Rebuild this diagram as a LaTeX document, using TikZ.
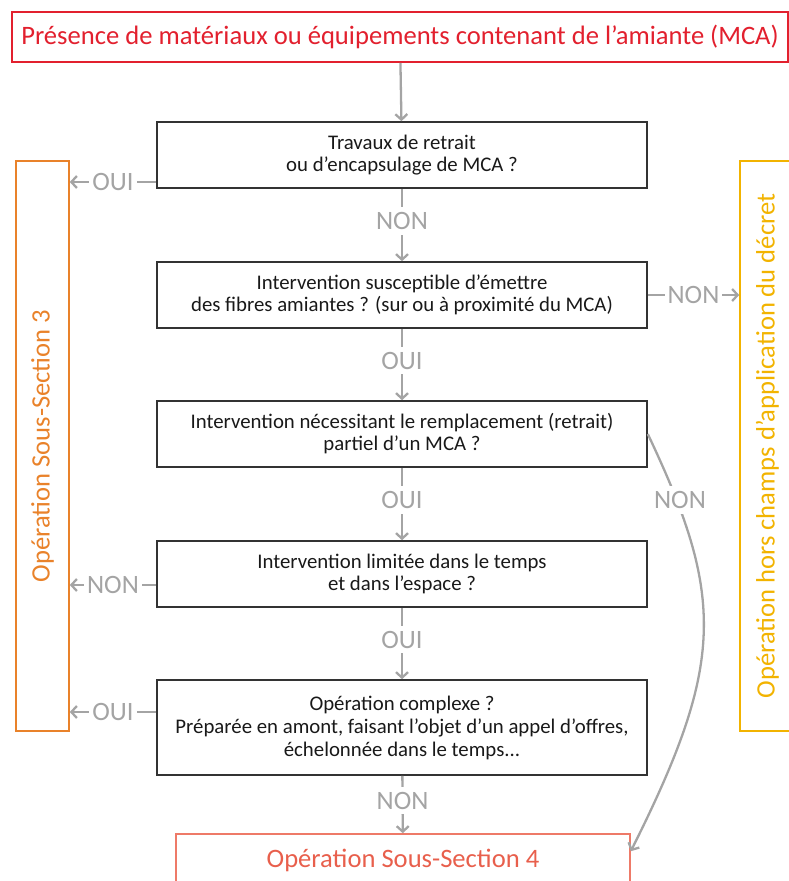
\documentclass[tikz,border=0pt]{standalone}
\usepackage{fontspec}
\setmainfont{Carlito}
\usetikzlibrary{arrows.meta,calc}
\definecolor{cred}{HTML}{E2202E}
\definecolor{csalmon}{HTML}{EE7A68}
\definecolor{csalmontxt}{HTML}{E85F4C}
\definecolor{corange}{HTML}{E9822A}
\definecolor{cyellow}{HTML}{F2B300}
\definecolor{cgray}{HTML}{A4A4A4}
\definecolor{cdark}{HTML}{333333}
\tikzset{
  qbox/.style={draw=cdark, line width=1.6pt, minimum width=490pt, minimum height=66pt,
    align=center, font=\fontsize{20.8}{22}\selectfont, text=black!90, inner sep=0pt},
  arr/.style={draw=cgray, line width=2.3pt, -{Straight Barb[length=5.5pt,width=12pt]}},
  lbl/.style={fill=white, text=cgray, font=\fontsize{26.5}{28}\selectfont, inner xsep=3pt, inner ysep=5pt},
  vlbl/.style={lbl, yshift=4pt},
  bigtxt/.style={font=\fontsize{26.6}{28}\selectfont, inner sep=0pt, line width=1.6pt},
}
\begin{document}
\begin{tikzpicture}[x=1pt,y=-1pt]
\useasboundingbox (0,0) rectangle (789,881);
\clip (0,0) rectangle (789,881);
\node[bigtxt, draw=cred, minimum width=776pt, minimum height=50pt, text=cred] (top) at (400,37)
  {Présence de matériaux ou équipements contenant de l’amiante (MCA)};
\node[qbox] (b1) at (402,155) {Travaux de retrait\\ou d’encapsulage de MCA ?};
\node[qbox] (b2) at (402,295) {Intervention susceptible d’émettre\\des fibres amiantes ? (sur ou à proximité du MCA)};
\node[qbox] (b3) at (402,434) {Intervention nécessitant le remplacement (retrait)\\partiel d’un MCA ?};
\node[qbox] (b4) at (402,574) {Intervention limitée dans le temps\\et dans l’espace ?};
\node[qbox, minimum height=95pt, font=\fontsize{20.8}{23}\selectfont] (b5) at (402,727.5) {\raisebox{-3pt}{\parbox{480pt}{\centering Opération complexe ?\\Préparée en amont, faisant l’objet d’un appel d’offres,\\échelonnée dans le temps...}}};
\node[bigtxt, draw=csalmon, minimum width=454pt, minimum height=56pt,
  text=csalmontxt] (ss4) at (403,862) {\raisebox{7pt}{Opération Sous-Section 4}};
\node[bigtxt, draw=corange, rotate=90, minimum width=570pt, minimum height=53pt,
  text=corange] (ss3) at (42.5,446) {Opération Sous-Section 3};
\node[bigtxt, draw=cyellow, rotate=90, minimum width=570pt, minimum height=55pt,
  text=cyellow] (hors) at (767.5,446) {Opération hors champs d’application du décret};
% vertical flow
\draw[arr] (top) -- (b1);
\draw[arr] (b1) -- node[vlbl]{NON} (b2);
\draw[arr] (b2) -- node[vlbl]{OUI} (b3);
\draw[arr] (b3) -- node[vlbl]{OUI} (b4);
\draw[arr] (b4) -- node[vlbl]{OUI} (b5);
\draw[arr] (b5) -- node[vlbl]{NON} (ss4);
% side arrows
\draw[arr] (b1.west |- 0,182) -- node[lbl, inner ysep=0pt]{OUI} (ss3.south |- 0,182);
\draw[arr] (b4.west |- 0,585) -- node[lbl, inner ysep=0pt]{NON} (ss3.south |- 0,585);
\draw[arr] (b5.west |- 0,712) -- node[lbl, inner ysep=0pt]{OUI} (ss3.south |- 0,712);
\draw[arr] (b2.east) -- node[lbl, inner ysep=0pt]{NON} (hors.north |- b2.east);
% curved
\draw[arr] (b3.east) .. controls (725,597) and (725,663) .. ($(ss4.north east)+(0,18)$);
\node[lbl] (lcurve) at (680,500) {NON};
\end{tikzpicture}
\end{document}
